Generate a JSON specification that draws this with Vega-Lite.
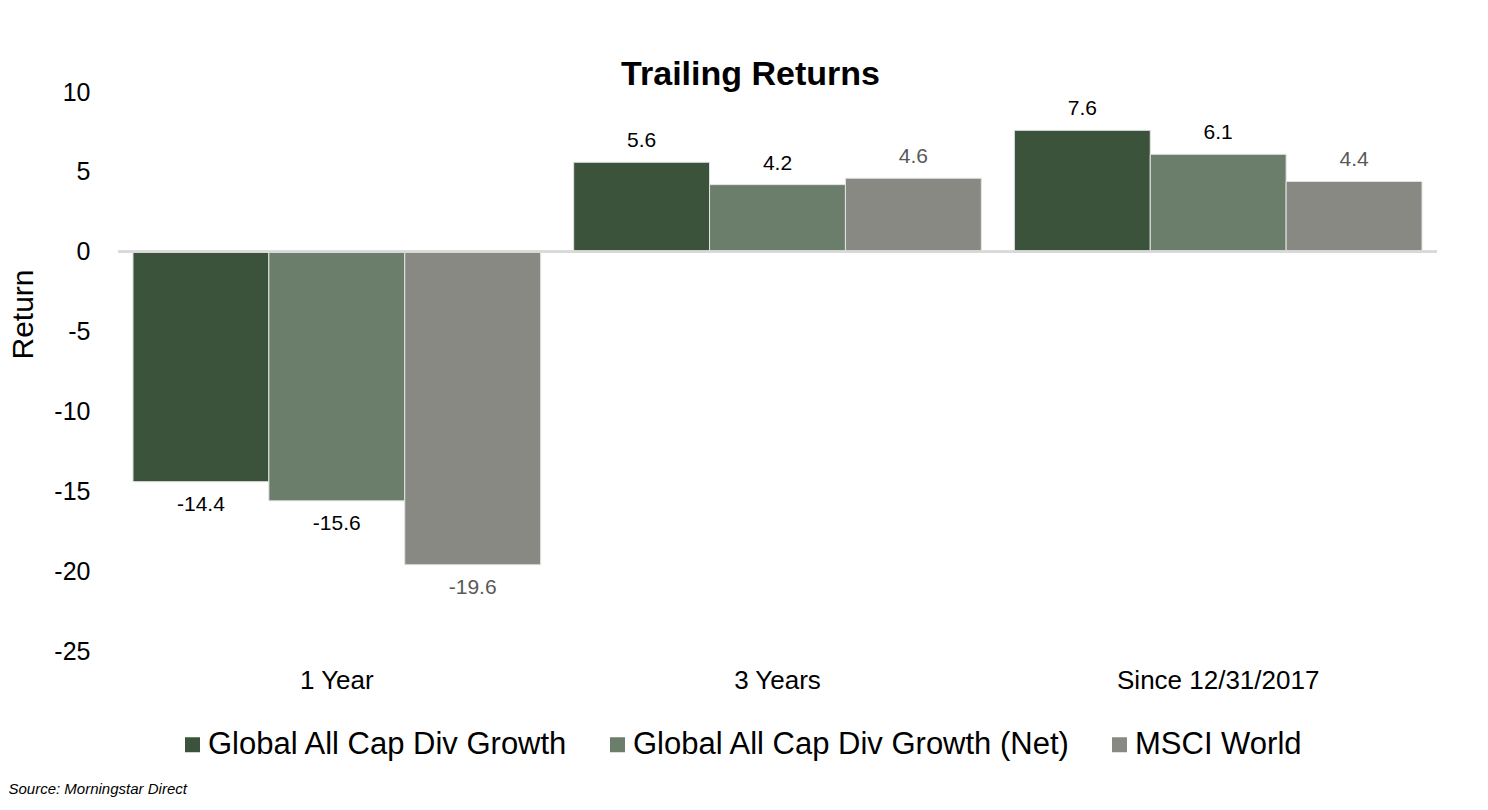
{
  "$schema": "https://vega.github.io/schema/vega-lite/v6.json",
  "autosize": {"type": "none"},
  "width": 1319,
  "height": 559,
  "padding": {"left": 118, "top": 92, "right": 51, "bottom": 159},
  "background": "white",
  "config": {
    "font": "Liberation Sans",
    "view": {"stroke": null},
    "locale": {
      "number": {"decimal": ".", "thousands": ",", "grouping": [3], "currency": ["$", ""], "minus": "-"}
    }
  },
  "title": {
    "text": "Trailing Returns",
    "fontSize": 34,
    "fontWeight": "bold",
    "color": "#000000",
    "anchor": "middle",
    "dx": -27,
    "offset": -12
  },
  "data": {
    "values": [
      {"period": "1 Year", "series": "Global All Cap Div Growth", "ret": -14.4},
      {"period": "1 Year", "series": "Global All Cap Div Growth (Net)", "ret": -15.6},
      {"period": "1 Year", "series": "MSCI World", "ret": -19.6},
      {"period": "3 Years", "series": "Global All Cap Div Growth", "ret": 5.6},
      {"period": "3 Years", "series": "Global All Cap Div Growth (Net)", "ret": 4.2},
      {"period": "3 Years", "series": "MSCI World", "ret": 4.6},
      {"period": "Since 12/31/2017", "series": "Global All Cap Div Growth", "ret": 7.6},
      {"period": "Since 12/31/2017", "series": "Global All Cap Div Growth (Net)", "ret": 6.1},
      {"period": "Since 12/31/2017", "series": "MSCI World", "ret": 4.4}
    ]
  },
  "layer": [
    {
      "mark": {"type": "bar", "stroke": "#e3e3e3", "strokeWidth": 1},
      "encoding": {
        "x": {
          "field": "period",
          "type": "nominal",
          "sort": ["1 Year", "3 Years", "Since 12/31/2017"],
          "scale": {"paddingInner": 0.075, "paddingOuter": 0.034},
          "axis": {
            "title": "Source: Morningstar Direct",
            "titleFont": "Liberation Sans",
            "titleFontSize": 15,
            "titleFontStyle": "italic",
            "titleFontWeight": "normal",
            "titleColor": "#000000",
            "titleAnchor": "start",
            "titleAlign": "left",
            "titleBaseline": "bottom",
            "titleX": -110,
            "titleY": 145,
            "labelAngle": 0,
            "labelFontSize": 26,
            "labelColor": "#000000",
            "labelPadding": 16,
            "labelLimit": 500,
            "ticks": false,
            "domain": false
          }
        },
        "xOffset": {
          "field": "series",
          "type": "nominal",
          "sort": ["Global All Cap Div Growth", "Global All Cap Div Growth (Net)", "MSCI World"],
          "scale": {"paddingInner": 0, "paddingOuter": 0}
        },
        "y": {
          "field": "ret",
          "type": "quantitative",
          "scale": {"domain": [-25, 10], "nice": false},
          "axis": {
            "title": "Return",
            "titleFontSize": 30,
            "titleFontWeight": "normal",
            "titleColor": "#000000",
            "titleX": -95,
            "titleY": 222,
            "titleAngle": -90,
            "titleAlign": "center",
            "titleBaseline": "middle",
            "values": [-25, -20, -15, -10, -5, 0, 5, 10],
            "labelFontSize": 25,
            "labelColor": "#000000",
            "labelPadding": 28,
            "ticks": false,
            "domain": false,
            "grid": false
          }
        },
        "color": {
          "field": "series",
          "type": "nominal",
          "sort": ["Global All Cap Div Growth", "Global All Cap Div Growth (Net)", "MSCI World"],
          "scale": {"range": ["#3a533a", "#6b7e6b", "#898984"]},
          "legend": {
            "title": null,
            "orient": "none",
            "legendX": 59,
            "legendY": 637,
            "direction": "horizontal",
            "columns": 3,
            "columnPadding": 33,
            "symbolType": "square",
            "symbolSize": 225,
            "symbolStrokeWidth": 0,
            "labelFontSize": 31,
            "labelColor": "#000000",
            "labelOffset": 0,
            "labelLimit": 800
          }
        }
      }
    },
    {
      "mark": {"type": "rule", "color": "#d9d9d9", "strokeWidth": 2},
      "encoding": {"y": {"datum": 0, "type": "quantitative"}}
    },
    {
      "transform": [{"filter": "datum.ret >= 0"}],
      "mark": {"type": "text", "baseline": "alphabetic", "dy": -15, "fontSize": 21},
      "encoding": {
        "x": {"field": "period", "type": "nominal", "sort": ["1 Year", "3 Years", "Since 12/31/2017"]},
        "xOffset": {"field": "series", "type": "nominal", "sort": ["Global All Cap Div Growth", "Global All Cap Div Growth (Net)", "MSCI World"]},
        "y": {"field": "ret", "type": "quantitative"},
        "text": {"field": "ret", "type": "quantitative", "format": ".1f"},
        "color": {"condition": {"test": "datum.series === 'MSCI World'", "value": "#595959"}, "value": "#000000"}
      }
    },
    {
      "transform": [{"filter": "datum.ret < 0"}],
      "mark": {"type": "text", "baseline": "top", "dy": 12, "fontSize": 21},
      "encoding": {
        "x": {"field": "period", "type": "nominal", "sort": ["1 Year", "3 Years", "Since 12/31/2017"]},
        "xOffset": {"field": "series", "type": "nominal", "sort": ["Global All Cap Div Growth", "Global All Cap Div Growth (Net)", "MSCI World"]},
        "y": {"field": "ret", "type": "quantitative"},
        "text": {"field": "ret", "type": "quantitative", "format": ".1f"},
        "color": {"condition": {"test": "datum.series === 'MSCI World'", "value": "#595959"}, "value": "#000000"}
      }
    }
  ]
}
